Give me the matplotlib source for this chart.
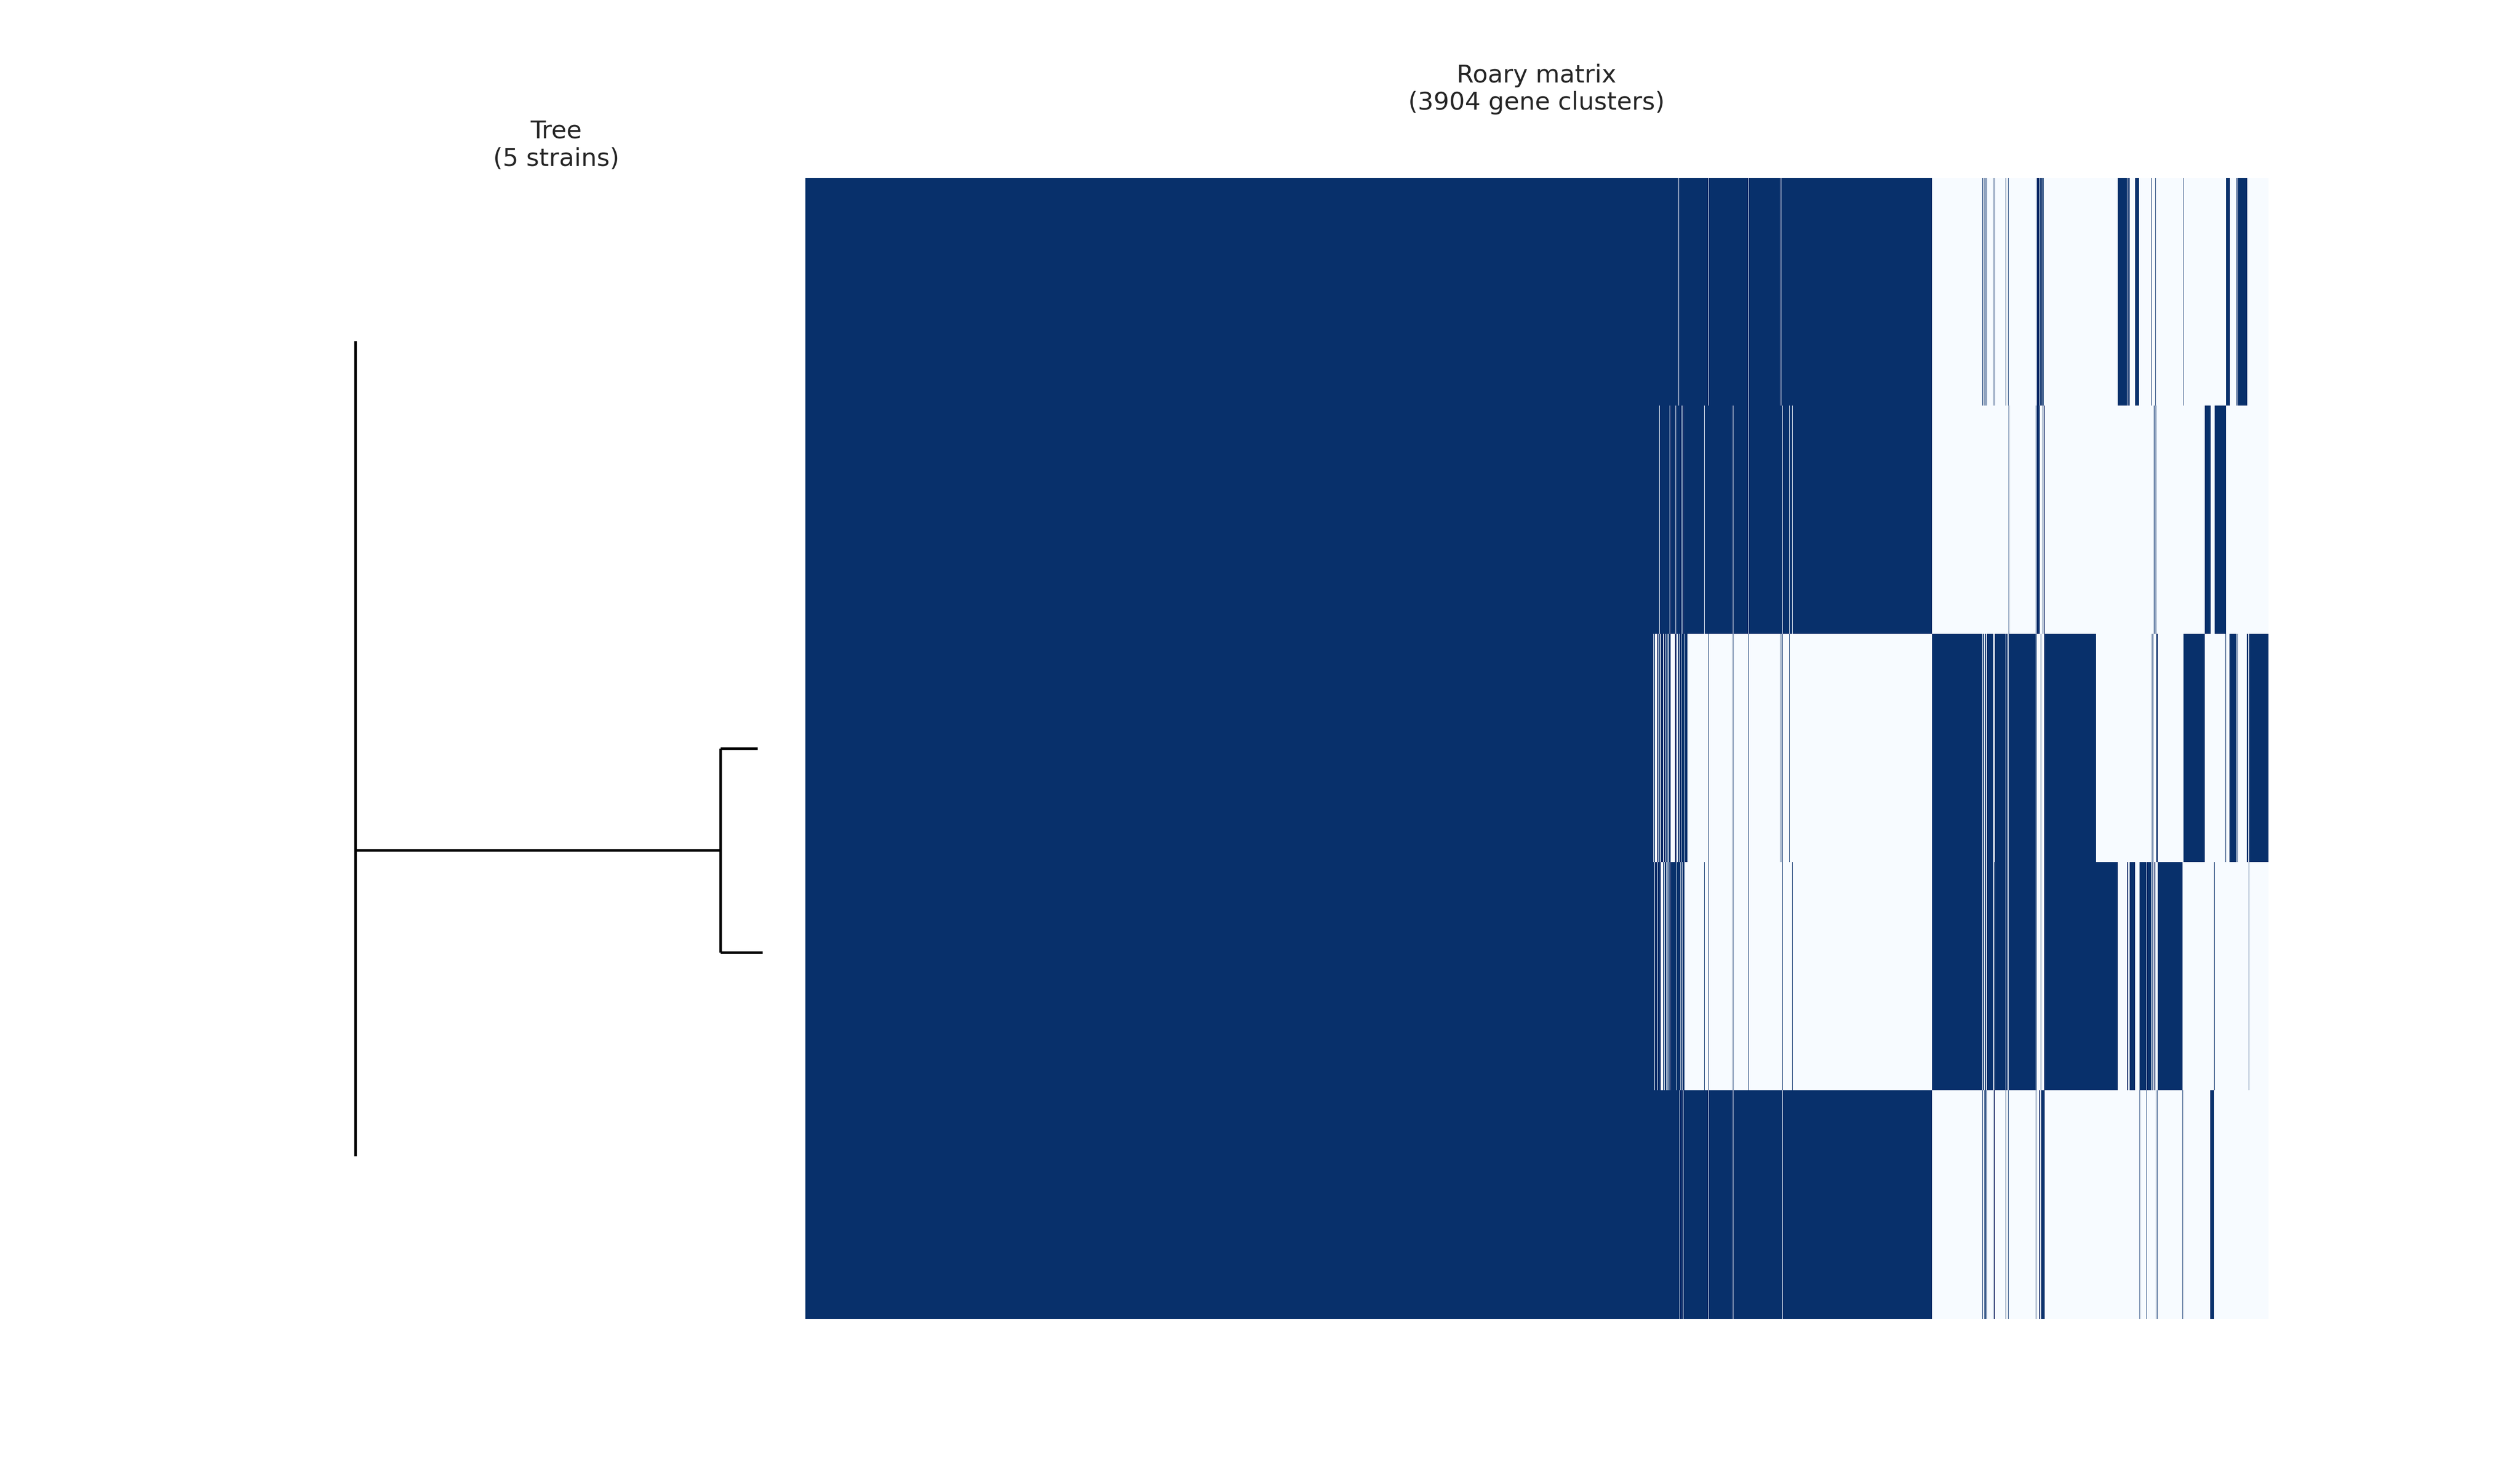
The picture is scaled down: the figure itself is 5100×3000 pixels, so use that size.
import numpy as np
import matplotlib
matplotlib.use("Agg")
import matplotlib.pyplot as plt

n_genes = 3904
n_strains = 5

# presence runs per strain (gene column start, end), columns already sorted
strain1_present = [(0, 2330), (2331, 2409), (2410, 2516), (2517, 2603), (2604, 3006),
                   (3141, 3142), (3145, 3146), (3147, 3149), (3150, 3151), (3171, 3172),
                   (3203, 3204), (3209, 3211), (3286, 3292), (3293, 3296), (3297, 3302),
                   (3303, 3304), (3502, 3528), (3530, 3533), (3548, 3558), (3592, 3593),
                   (3602, 3603), (3676, 3677), (3790, 3801), (3818, 3819), (3821, 3847)]
strain2_present = [(0, 2278), (2279, 2306), (2307, 2322), (2323, 2336), (2337, 2340),
                   (2341, 2398), (2399, 2475), (2476, 2516), (2517, 2607), (2608, 2625),
                   (2626, 2633), (2634, 3006), (3211, 3212), (3283, 3284), (3285, 3293),
                   (3302, 3303), (3304, 3307), (3598, 3599), (3601, 3602), (3604, 3605),
                   (3734, 3750), (3760, 3790)]
strain3_present = [(0, 2262), (2264, 2267), (2273, 2276), (2277, 2280), (2282, 2289),
                   (2291, 2294), (2296, 2298), (2300, 2301), (2303, 2308), (2321, 2323),
                   (2325, 2326), (2329, 2331), (2333, 2336), (2337, 2344), (2346, 2353),
                   (2409, 2410), (2475, 2476), (2516, 2517), (2603, 2604), (2607, 2608),
                   (2625, 2626), (3006, 3140), (3142, 3145), (3147, 3150), (3153, 3170),
                   (3173, 3202), (3204, 3208), (3211, 3283), (3284, 3286), (3296, 3297),
                   (3306, 3444), (3593, 3594), (3596, 3597), (3605, 3609), (3677, 3734),
                   (3789, 3790), (3800, 3818), (3819, 3821), (3846, 3850), (3852, 3904)]
strain4_present = [(0, 2265), (2267, 2273), (2274, 2282), (2289, 2291), (2293, 2297),
                   (2298, 2300), (2301, 2302), (2303, 2306), (2307, 2325), (2326, 2335),
                   (2336, 2339), (2340, 2346), (2398, 2399), (2409, 2410), (2475, 2476),
                   (2516, 2517), (2607, 2608), (2633, 2634), (3006, 3140), (3142, 3145),
                   (3147, 3150), (3153, 3170), (3172, 3202), (3204, 3208), (3211, 3283),
                   (3284, 3286), (3296, 3297), (3306, 3502), (3527, 3530), (3533, 3548),
                   (3560, 3578), (3580, 3592), (3594, 3597), (3599, 3602), (3609, 3675),
                   (3759, 3760), (3851, 3852)]
strain5_present = [(0, 2333), (2334, 2341), (2343, 2409), (2410, 2475), (2476, 2607),
                   (2608, 3006), (3141, 3142), (3146, 3147), (3148, 3151), (3171, 3173),
                   (3203, 3204), (3209, 3211), (3283, 3284), (3292, 3295), (3297, 3307),
                   (3560, 3561), (3578, 3579), (3604, 3605), (3608, 3609), (3675, 3676),
                   (3749, 3759)]

# tree: tips in drawing order, distance from root
tip_y = [1, 2, 3, 4, 5]
tip_depth = [0.0, 0.0, 0.0998, 0.1010, 0.0]
clade_depth = 0.0906   # internal node joining tips 3 and 4
mdist = 0.0996

runs = [strain1_present, strain2_present, strain3_present, strain4_present, strain5_present]
matrix = np.zeros((n_strains, n_genes))
for i, r in enumerate(runs):
    for a, b in r:
        matrix[i, a:b] = 1

fig = plt.figure(figsize=(17, 10), dpi=300)

ax1 = plt.subplot2grid((1, 40), (0, 0), colspan=10)
lw = 1.3
# root
ax1.vlines(0, min(tip_y), max(tip_y), color='black', lw=lw)
# branch to the inner clade
cy = (tip_y[2] + tip_y[3]) / 2
ax1.hlines(cy, 0, clade_depth, color='black', lw=lw)
ax1.vlines(clade_depth, tip_y[2], tip_y[3], color='black', lw=lw)
for k in (2, 3):
    ax1.hlines(tip_y[k], clade_depth, tip_depth[k], color='black', lw=lw)
ax1.set_xlim(-0.01, mdist + 0.01)
ax1.set_ylim(max(tip_y) + 0.8, 0.2)
ax1.axis('off')
ax1.set_title('Tree\n(%d strains)' % n_strains, fontsize=12, color='.15')

ax = plt.subplot2grid((1, 40), (0, 10), colspan=30)
ax.imshow(matrix, cmap=plt.cm.Blues, vmin=0, vmax=1, aspect='auto',
          interpolation='nearest')
ax.axis('off')
ax.set_title('Roary matrix\n(%d gene clusters)' % n_genes, fontsize=12,
             color='.15', pad=33)

plt.savefig('out.png', dpi=300)
